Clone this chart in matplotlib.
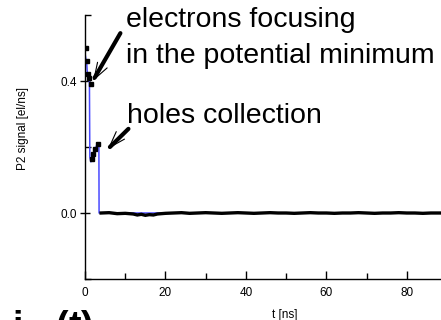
import matplotlib
matplotlib.use("Agg")
import matplotlib.pyplot as plt
from matplotlib.ticker import MultipleLocator, FormatStrFormatter

plt.rcParams['font.family'] = ['Liberation Sans', 'DejaVu Sans']
plt.rcParams['mathtext.fontset'] = 'custom'
plt.rcParams['mathtext.bf'] = 'Liberation Sans:bold'
plt.rcParams['mathtext.rm'] = 'Liberation Sans'

# Model curve (blue)
t_model = [0.0, 0.05, 0.3, 0.45, 0.6, 1.1, 1.2, 1.45, 1.9, 2.4, 2.9, 3.3, 3.45, 3.5, 90.0]
v_model = [0.52, 0.48, 0.46, 0.45, 0.42, 0.40, 0.17, 0.155, 0.175, 0.19, 0.205, 0.21, 0.21, 0.0, 0.0]

# Measured points during the transient
t_meas = [0.2, 0.4, 0.75, 1.0, 1.5, 1.65, 2.0, 2.6, 3.3]
v_meas = [0.50, 0.46, 0.42, 0.41, 0.39, 0.165, 0.18, 0.195, 0.21]

# Measured baseline after the holes are collected
t_base = [4, 6, 8, 10, 12, 13, 14, 15, 16, 17, 18, 20, 22, 24, 26, 28, 30, 32, 34, 36,
          38, 40, 42, 44, 46, 48, 50, 52, 54, 56, 58, 60, 62, 64, 66, 68, 70, 72, 74,
          76, 78, 80, 82, 84, 86, 88, 90]
v_base = [0.0, 0.001, -0.002, -0.001, -0.003, -0.006, -0.004, -0.007, -0.005, -0.006,
          -0.003, -0.001, 0.0, 0.001, -0.001, 0.0, 0.001, 0.0, -0.001, 0.0,
          0.001, 0.0, -0.001, 0.0, 0.001, 0.0, 0.0, -0.001, 0.0, 0.001, 0.0, 0.0,
          -0.001, 0.0, 0.0, 0.001, 0.0, -0.001, 0.0, 0.0, 0.001, 0.0, 0.0, -0.001,
          0.0, 0.0, 0.0]

W, H = 441, 320
fig = plt.figure(figsize=(W / 100, H / 100), dpi=100)
ax = fig.add_axes([85 / W, 41 / H, 362 / W, 264 / H])

ax.plot(t_model, v_model, color='#4a4aff', lw=1.1, zorder=2)
ax.plot(t_base, v_base, color='black', lw=2.4, solid_joinstyle='miter', zorder=3)
ax.plot(t_meas, v_meas, color='black', lw=0, marker='s', ms=2.6, zorder=3)

ax.set_xlim(0, 90)
ax.set_ylim(-0.2, 0.6)
ax.xaxis.set_major_locator(MultipleLocator(20))
ax.xaxis.set_minor_locator(MultipleLocator(10))
ax.yaxis.set_major_locator(MultipleLocator(0.4))
ax.yaxis.set_minor_locator(MultipleLocator(0.2))
ax.yaxis.set_major_formatter(FormatStrFormatter('%.1f'))

ax.tick_params(axis='x', which='major', direction='in', length=6, width=1, labelsize=8.5, pad=6)
ax.tick_params(axis='x', which='minor', direction='in', length=4, width=1)
ax.tick_params(axis='y', which='major', direction='inout', length=7, width=1, labelsize=8.5, pad=2)
ax.tick_params(axis='y', which='minor', direction='in', length=4, width=1)

for side in ('top', 'right'):
    ax.spines[side].set_visible(False)
for side in ('left', 'bottom'):
    ax.spines[side].set_linewidth(1.0)

ax.set_ylabel('P2 signal [el/ns]', fontsize=8.5)
ax.yaxis.set_label_coords(-0.155, 0.57)
ax.set_xlabel('t [ns]', fontsize=8.5, labelpad=1)
ax.xaxis.set_label_coords((285 - 85) / 362, -0.115)

fs = 20.5
fig.text(126 / W, 1 - 27 / H, 'electrons focusing', fontsize=fs, va='baseline', ha='left')
fig.text(126 / W, 1 - 63 / H, 'in the potential minimum', fontsize=fs, va='baseline', ha='left')
fig.text(127 / W, 1 - 123 / H, 'holes collection', fontsize=fs, va='baseline', ha='left')

# Arrows: thick shafts with thin open heads
ax.annotate('', xy=(2.4, 0.41), xytext=(8.8, 0.545),
            arrowprops=dict(arrowstyle='-', lw=3.0, color='black', shrinkA=0, shrinkB=0))
ax.annotate('', xy=(2.0, 0.40), xytext=(3.2, 0.425),
            arrowprops=dict(arrowstyle='->,head_length=1.2,head_width=0.4', lw=0.8,
                            color='black', shrinkA=0, shrinkB=0))
ax.annotate('', xy=(6.2, 0.20), xytext=(10.8, 0.255),
            arrowprops=dict(arrowstyle='-', lw=3.0, color='black', shrinkA=0, shrinkB=0))
ax.annotate('', xy=(5.7, 0.194), xytext=(6.9, 0.21),
            arrowprops=dict(arrowstyle='->,head_length=1.2,head_width=0.4', lw=0.8,
                            color='black', shrinkA=0, shrinkB=0))

# Panel caption, partly below the lower edge
fig.text(12 / W, 1 - 338 / H, r'$\mathbf{i_{P2}(t)}$', fontsize=27, va='baseline', ha='left')

fig.savefig('out.png', dpi=100)
